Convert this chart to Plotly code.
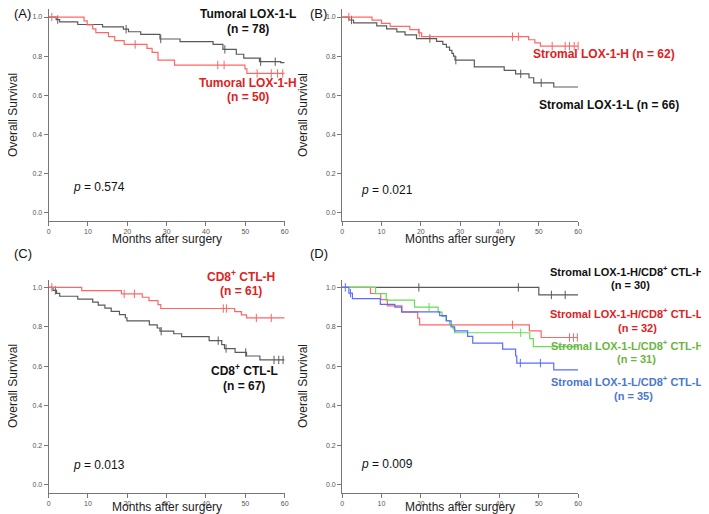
import plotly.graph_objects as go

# ---------------- data ----------------
# Panel A: Tumoral LOX-1
a_L_t = [1.9, 2.8, 7.4, 13.7, 19.0, 20.3, 23.4, 28.3, 33.4, 41.8, 44.3, 47.7, 49.6, 53.6, 59.0]
a_L_s = [0.987, 0.975, 0.962, 0.950, 0.938, 0.925, 0.912, 0.888, 0.875, 0.860, 0.835, 0.810, 0.790, 0.772, 0.767]
a_L_c = [2.3, 19.7, 28.5, 44.8, 53.9, 57.6]
a_H_t = [9.0, 9.8, 11.2, 12.0, 15.2, 16.8, 19.2, 25.0, 26.3, 27.8, 32.0, 49.9, 50.4]
a_H_s = [0.98, 0.96, 0.94, 0.92, 0.90, 0.88, 0.86, 0.84, 0.82, 0.78, 0.755, 0.735, 0.712]
a_H_c = [0.8, 22.0, 43.0, 44.6, 53.0, 56.6, 58.2, 59.5]

# Panel B: Stromal LOX-1
b_H_t = [7.6, 10.0, 12.2, 17.2, 19.4, 20.2, 47.4, 49.0, 50.4]
b_H_s = [0.984, 0.968, 0.952, 0.936, 0.919, 0.900, 0.884, 0.868, 0.852]
b_H_c = [1.7, 19.6, 43.3, 44.8, 53.4, 56.7, 57.8, 59.0, 60.0]
b_L_t = [1.7, 2.9, 8.8, 11.3, 13.9, 16.0, 18.9, 24.0, 25.6, 26.5, 27.3, 27.9, 28.3, 28.7,
         33.6, 41.2, 44.1, 47.5, 48.7, 53.8]
b_L_s = [0.985, 0.970, 0.955, 0.940, 0.924, 0.909, 0.890, 0.876, 0.860, 0.846, 0.830, 0.815,
         0.800, 0.780, 0.746, 0.728, 0.710, 0.690, 0.664, 0.643]
b_L_c = [2.4, 22.3, 28.9, 45.4, 50.6]

# Panel C: CD8+ CTL
c_H_t = [8.4, 18.5, 23.8, 25.5, 27.8, 28.5, 47.3, 49.0, 50.3]
c_H_s = [0.984, 0.967, 0.950, 0.933, 0.913, 0.893, 0.877, 0.861, 0.845]
c_H_c = [0.8, 19.2, 21.8, 44.4, 45.2, 52.8, 56.6]
c_L_t = [1.1, 2.0, 2.8, 7.4, 11.2, 12.6, 14.3, 15.9, 18.0, 19.5, 19.9, 25.6, 27.6, 28.3,
         31.8, 33.8, 40.8, 44.0, 44.7, 47.4, 50.3, 53.7]
c_L_s = [0.985, 0.970, 0.955, 0.940, 0.925, 0.910, 0.895, 0.878, 0.862, 0.846, 0.830, 0.810,
         0.794, 0.778, 0.765, 0.750, 0.730, 0.710, 0.690, 0.670, 0.652, 0.632]
c_L_c = [1.7, 28.6, 43.1, 45.1, 50.1, 57.3, 58.5, 59.6]

# Panel D: combined groups
d_HH_t = [50.0]
d_HH_s = [0.962]
d_HH_c = [19.5, 44.8, 53.2, 56.7]
d_HL_t = [7.2, 9.8, 11.5, 15.2, 19.2, 19.7, 47.6, 50.6]
d_HL_s = [0.969, 0.938, 0.906, 0.875, 0.844, 0.810, 0.780, 0.746]
d_HL_c = [43.3, 57.8, 58.8, 59.8]
d_LH_t = [8.5, 11.2, 18.4, 24.4, 25.4, 26.4, 27.3, 28.2, 28.6, 47.7, 48.6]
d_LH_s = [0.968, 0.935, 0.900, 0.875, 0.853, 0.832, 0.810, 0.790, 0.770, 0.740, 0.700]
d_LH_c = [22.1, 45.4]
d_LL_t = [1.7, 2.6, 9.7, 13.4, 15.1, 24.8, 26.5, 27.7, 28.6, 31.9, 33.2, 40.8, 44.1, 44.4, 53.8]
d_LL_s = [0.971, 0.943, 0.914, 0.900, 0.876, 0.857, 0.830, 0.800, 0.780, 0.752, 0.717,
          0.687, 0.652, 0.616, 0.582]
d_LL_c = [0.8, 2.1, 45.3, 50.4]

x_ticks = [0, 10, 20, 30, 40, 50, 60]
y_ticks = [0.0, 0.2, 0.4, 0.6, 0.8, 1.0]
y_tick_text = ["0.0", "0.2", "0.4", "0.6", "0.8", "1.0"]
p_values = ["0.574", "0.021", "0.013", "0.009"]

# ---------------- styling ----------------
W, H = 709, 514
GRAY = "#5a5a5a"
RED = "#ff6666"
GREEN = "#66dd55"
BLUE = "#5a6cff"
T_BLACK = "#111111"
T_RED = "#dd2222"
T_GREEN = "#6cb443"
T_BLUE = "#4a78cc"
FONT = "Liberation Sans, Arial, sans-serif"
DY = -6.5  # correction between requested and rendered text centre

# pixel geometry of the four plot areas: (left, right, top, bottom)
panels = {
    1: (39, 277, 1.2, 212.8),
    2: (335, 573, 1.2, 212.8),
    3: (39, 277, 271.5, 484.5),
    4: (335, 573, 271.5, 484.5),
}

fig = go.Figure()


def s_at(times, surv, t):
    v = 1.0
    for tt, ss in zip(times, surv):
        if tt <= t:
            v = ss
    return v


def add_curve(idx, times, surv, cens, color):
    xs = [0] + list(times) + [60]
    ys = [1.0] + list(surv) + [surv[-1]]
    suffix = "" if idx == 1 else str(idx)
    fig.add_trace(go.Scatter(
        x=xs, y=ys, mode="lines", line=dict(color=color, width=1.2, shape="hv"),
        xaxis="x" + suffix, yaxis="y" + suffix, showlegend=False, hoverinfo="skip"))
    fig.add_trace(go.Scatter(
        x=cens, y=[s_at(times, surv, c) for c in cens], mode="markers",
        marker=dict(symbol="line-ns", size=6, line=dict(color=color, width=1)),
        xaxis="x" + suffix, yaxis="y" + suffix, showlegend=False, cliponaxis=False,
        hoverinfo="skip"))


add_curve(1, a_L_t, a_L_s, a_L_c, GRAY)
add_curve(1, a_H_t, a_H_s, a_H_c, RED)
add_curve(2, b_L_t, b_L_s, b_L_c, GRAY)
add_curve(2, b_H_t, b_H_s, b_H_c, RED)
add_curve(3, c_L_t, c_L_s, c_L_c, GRAY)
add_curve(3, c_H_t, c_H_s, c_H_c, RED)
add_curve(4, d_HH_t, d_HH_s, d_HH_c, GRAY)
add_curve(4, d_HL_t, d_HL_s, d_HL_c, RED)
add_curve(4, d_LH_t, d_LH_s, d_LH_c, GREEN)
add_curve(4, d_LL_t, d_LL_s, d_LL_c, BLUE)

layout = dict(
    width=W, height=H, margin=dict(l=0, r=0, t=0, b=0),
    paper_bgcolor="white", plot_bgcolor="white",
    font=dict(family=FONT, color=T_BLACK),
    showlegend=False,
)

for idx, (l, r, t, b) in panels.items():
    suffix = "" if idx == 1 else str(idx)
    layout["xaxis" + suffix] = dict(
        domain=[l / W, r / W], range=[0, 60], anchor="y" + suffix,
        tickvals=x_ticks, ticks="outside", ticklen=4, tickwidth=1, tickcolor="#777",
        showline=True, linecolor="#777", linewidth=1, showgrid=False, zeroline=False,
        tickfont=dict(size=7, color="#555"), fixedrange=True)
    layout["yaxis" + suffix] = dict(
        domain=[1 - b / H, 1 - t / H], range=[-0.04, 1.04], anchor="x" + suffix,
        tickvals=y_ticks, ticktext=y_tick_text, ticks="outside", ticklen=4, tickwidth=1,
        tickcolor="#777", showline=True, linecolor="#777", linewidth=1, showgrid=False,
        zeroline=False, tickfont=dict(size=7, color="#555"), fixedrange=True)

fig.update_layout(**layout)

ann = []


def text(x, y, s, color=T_BLACK, size=12, bold=False, angle=0, anchor="center",
         yanchor="middle", raw=False):
    if bold:
        s = "<b>" + s + "</b>"
    if raw:
        xx, yy = x, y
    elif angle == 0:
        xx, yy = x, y + DY
    else:
        xx, yy = x + DY, y
    ann.append(dict(x=xx / W, y=1 - yy / H, xref="paper", yref="paper", text=s,
                    showarrow=False, xanchor=anchor, yanchor=yanchor, textangle=angle,
                    borderpad=0, font=dict(size=size, color=color, family=FONT)))


# panel letters
text(13, -3, "(A)", size=13, yanchor="top", raw=True)
text(311, -3, "(B)", size=13, yanchor="top", raw=True)
text(13, 252, "(C)", size=13)
text(312, 252, "(D)", size=13)

# axis titles
for (l, r, t, b), lx, ty in zip(panels.values(), [9.5, 302, 9.5, 302], [238, 238, 505, 505]):
    text((l + r) / 2, ty, "Months after surgery", color="#222", size=12)
    text(lx, (t + b) / 2, "Overall Survival", color="#222", size=12, angle=-90)

# p-values
text(63, 185, "<i>p</i> = " + p_values[0], anchor="left", size=12)
text(353, 188, "<i>p</i> = " + p_values[1], anchor="left", size=12)
text(63, 463, "<i>p</i> = " + p_values[2], anchor="left", size=12)
text(353, 462, "<i>p</i> = " + p_values[3], anchor="left", size=12)

# group labels
text(240, 13, "Tumoral LOX-1-L", bold=True)
text(240, 28, "(n = 78)", bold=True)
text(240, 81, "Tumoral LOX-1-H", color=T_RED, bold=True)
text(240, 95, "(n = 50)", color=T_RED, bold=True)

text(599, 52, "Stromal LOX-1-H (n = 62)", color=T_RED, bold=True)
text(604, 103, "Stromal LOX-1-L (n = 66)", bold=True)

text(233, 274, "CD8<sup>+</sup> CTL-H", color=T_RED, bold=True)
text(233, 289, "(n = 61)", color=T_RED, bold=True)
text(236, 368, "CD8<sup>+</sup> CTL-L", bold=True)
text(236, 384, "(n = 67)", bold=True)

DS = 11
text(622, 269, "Stromal LOX-1-H/CD8<sup>+</sup> CTL-H", bold=True, size=DS)
text(626, 283, "(n = 30)", bold=True, size=DS)
text(622, 311, "Stromal LOX-1-H/CD8<sup>+</sup> CTL-L", color=T_RED, bold=True, size=DS)
text(633, 326, "(n = 32)", color=T_RED, bold=True, size=DS)
text(622, 343, "Stromal LOX-1-L/CD8<sup>+</sup> CTL-H", color=T_GREEN, bold=True, size=DS)
text(632, 357, "(n = 31)", color=T_GREEN, bold=True, size=DS)
text(622, 379, "Stromal LOX-1-L/CD8<sup>+</sup> CTL-L", color=T_BLUE, bold=True, size=DS)
text(629, 394, "(n = 35)", color=T_BLUE, bold=True, size=DS)

fig.update_layout(annotations=ann)
fig.write_html("out.html")
